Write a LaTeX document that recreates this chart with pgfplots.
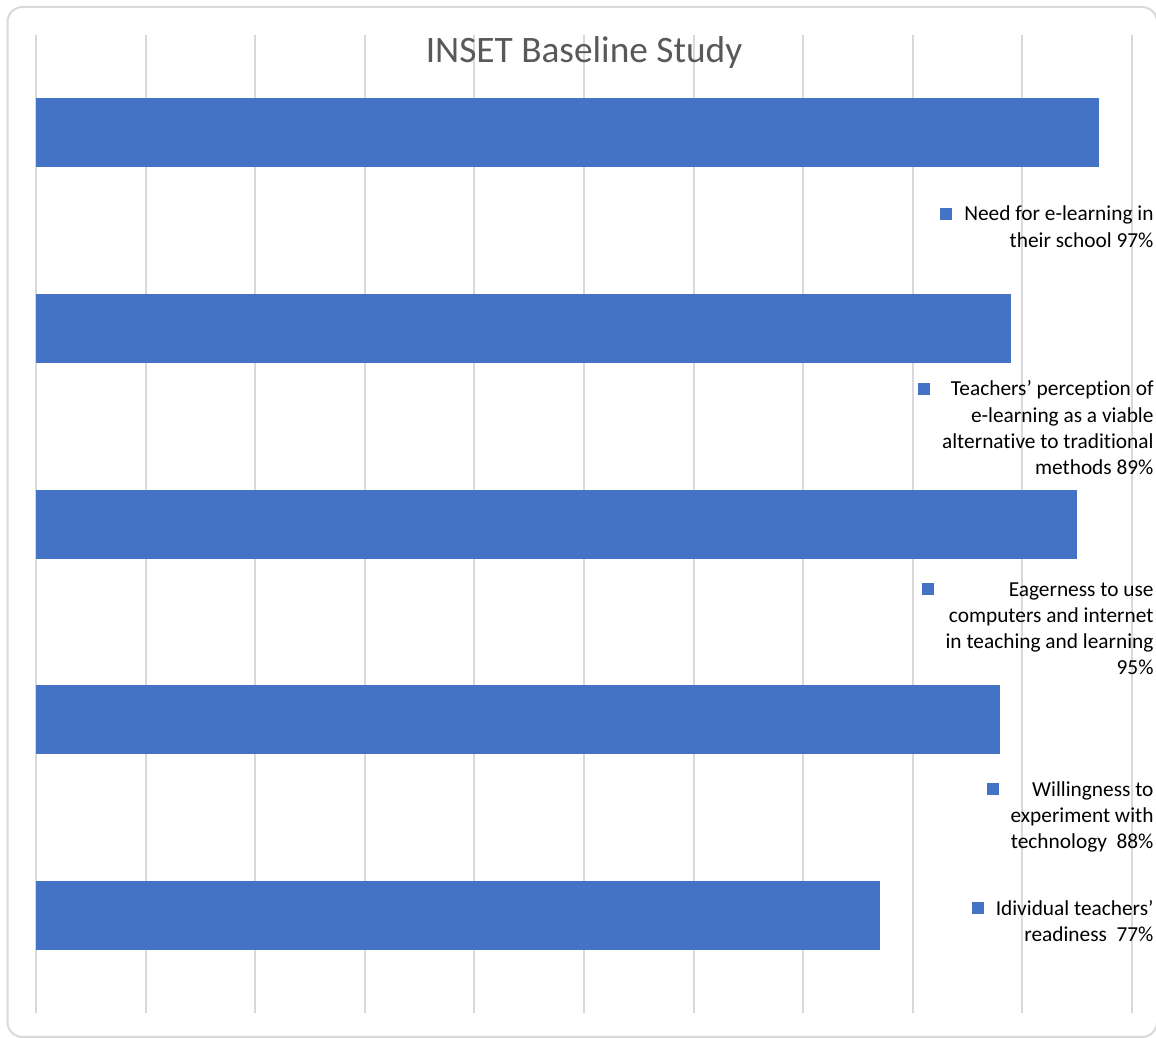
\documentclass[border=0pt]{standalone}
\usepackage{pgfplots}
\pgfplotsset{compat=1.18}
\usepackage{fontspec}
\setmainfont{Carlito}[Ligatures=NoCommon]

\definecolor{barblue}{HTML}{4472C4}
\definecolor{gridgray}{HTML}{D9D9D9}
\definecolor{titlegray}{HTML}{595959}

% legend entry: square left of a right-aligned block of lines
\newcommand{\entry}[1]{\textcolor{barblue}{\rule[0.5pt]{6pt}{6pt}}\hspace{6pt}\begin{tabular}[t]{@{}r@{}}#1\end{tabular}}

\begin{document}
\begin{tikzpicture}
\begin{axis}[
    scale only axis,
    width=548pt, height=489pt,
    xmin=0, xmax=100,
    ymin=-0.5, ymax=4.5,
    y dir=reverse,
    xtick={0,10,...,100},
    xticklabels={},
    ytick=\empty,
    major tick length=0pt,
    axis line style={draw=none},
    xmajorgrids,
    grid style={gridgray, line width=1pt},
    title={INSET Baseline Study},
    title style={font=\fontsize{18.67}{22}\selectfont, text=titlegray,
        at={(0.5,0.9596)}, anchor=base, inner sep=0pt},
    legend cell align=right,
    legend style={at={(1.01962,0.82618)}, anchor=north east,
        draw=none, fill=none, inner sep=0pt, outer sep=0pt,
        row sep=0pt, column sep=0pt,
        font=\fontsize{10.67}{13}\selectfont,
        nodes={inner sep=0pt, text height=8pt, anchor=base east}},
]
\addplot[xbar, bar width=34.5pt, bar shift=0pt, fill=barblue, draw=none, forget plot]
    coordinates {(97,0)};
\addplot[xbar, bar width=34.5pt, bar shift=0pt, fill=barblue, draw=none, forget plot]
    coordinates {(89,1)};
\addplot[xbar, bar width=34.5pt, bar shift=0pt, fill=barblue, draw=none, forget plot]
    coordinates {(95,2)};
\addplot[xbar, bar width=34.5pt, bar shift=0pt, fill=barblue, draw=none, forget plot]
    coordinates {(88,3)};
\addplot[xbar, bar width=34.5pt, bar shift=0pt, fill=barblue, draw=none, forget plot]
    coordinates {(77,4)};

\addlegendimage{empty legend}
\addlegendentry[anchor=base east, text depth=79.5pt]{\entry{Need for e-learning in\\their school 97\%}}
\addlegendimage{empty legend}
\addlegendentry[anchor=base east, text depth=92pt]{\entry{Teachers’ perception of\\e-learning as a viable\\alternative to traditional\\methods 89\%}}
\addlegendimage{empty legend}
\addlegendentry[anchor=base east, text depth=92pt]{\entry{Eagerness to use\\computers and internet\\in teaching and learning\\95\%}}
\addlegendimage{empty legend}
\addlegendentry[anchor=base east, text depth=51.5pt]{\entry{Willingness to\\experiment with\\technology~~88\%}}
\addlegendimage{empty legend}
\addlegendentry[anchor=base east]{\entry{Idividual teachers’\\readiness~~77\%}}
\end{axis}
\draw[gridgray, line width=1pt, rounded corners=7.5pt] (-14.25pt,-12pt) rectangle (560.5pt,503pt);
\pgfresetboundingbox
\path[use as bounding box] (-18pt,-12.5pt) rectangle (560pt,506.5pt);
\end{tikzpicture}
\end{document}
